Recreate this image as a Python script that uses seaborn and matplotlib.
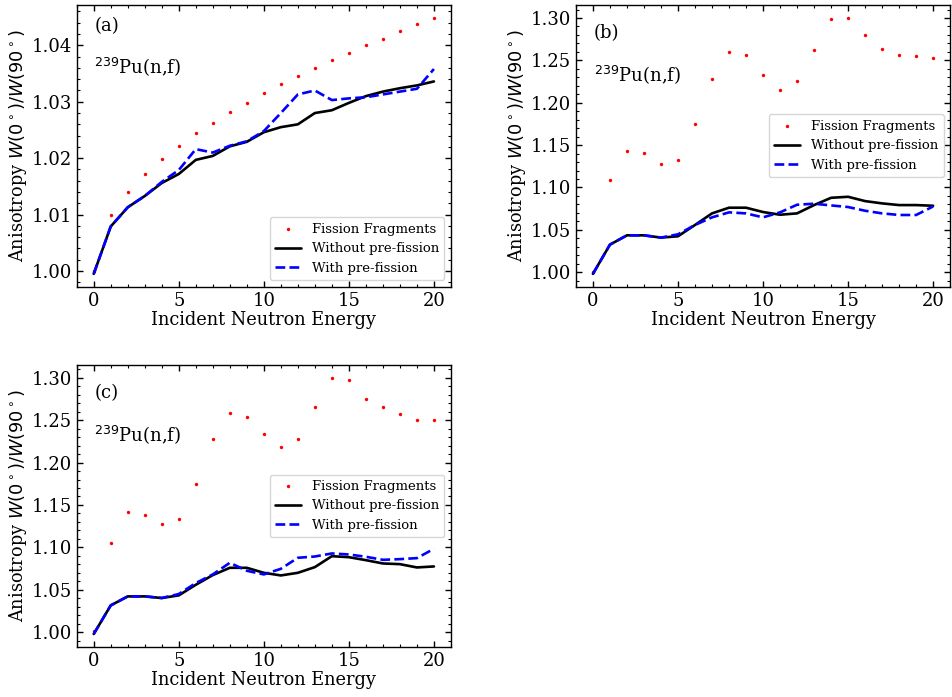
#!/usr/bin/env python3

import numpy as np
import pandas as pd
import seaborn as sns
import matplotlib
matplotlib.use("Agg")
import matplotlib.pyplot as plt
from matplotlib.ticker import MultipleLocator

# Anisotropy W(0)/W(90) vs incident neutron energy, three panels for 239Pu(n,f)

energy = list(range(21))

# panel (a)
ff_a = [1.0000, 1.0099, 1.0140, 1.0172, 1.0198, 1.0222, 1.0244, 1.0262, 1.0281, 1.0298, 1.0315,
        1.0331, 1.0345, 1.0360, 1.0374, 1.0387, 1.0400, 1.0412, 1.0425, 1.0437, 1.0449]
without_a = [0.9995, 1.0079, 1.0113, 1.0133, 1.0156, 1.0172, 1.0197, 1.0204, 1.0221, 1.0229, 1.0246,
             1.0255, 1.0260, 1.0280, 1.0285, 1.0298, 1.0310, 1.0318, 1.0324, 1.0329, 1.0336]
with_a = [0.9995, 1.0079, 1.0113, 1.0133, 1.0158, 1.0179, 1.0216, 1.0210, 1.0222, 1.0230, 1.0248,
          1.0280, 1.0313, 1.0320, 1.0303, 1.0306, 1.0308, 1.0313, 1.0318, 1.0323, 1.0358]

# panel (b)
ff_b = [1.0000, 1.1086, 1.1427, 1.1408, 1.1278, 1.1325, 1.1753, 1.2282, 1.2604, 1.2565, 1.2322,
        1.2153, 1.2259, 1.2624, 1.2984, 1.3004, 1.2796, 1.2639, 1.2569, 1.2553, 1.2525]
without_b = [0.998, 1.0325, 1.0435, 1.0435, 1.0408, 1.0424, 1.0557, 1.0694, 1.0761, 1.0761, 1.0710,
             1.0678, 1.0694, 1.0792, 1.0878, 1.0890, 1.0839, 1.0812, 1.0792, 1.0792, 1.0784]
with_b = [0.998, 1.0325, 1.0435, 1.0435, 1.0408, 1.0447, 1.0557, 1.0647, 1.0706, 1.0694, 1.0647,
          1.0706, 1.0796, 1.0808, 1.0788, 1.0769, 1.0725, 1.0694, 1.0675, 1.0675, 1.0776]

# panel (c)
ff_c = [1.0010, 1.1058, 1.1423, 1.1384, 1.1278, 1.1333, 1.1748, 1.2277, 1.2578, 1.2531, 1.2335,
        1.2179, 1.2277, 1.2657, 1.2998, 1.2978, 1.2751, 1.2649, 1.2571, 1.2500, 1.2500]
without_c = [0.998, 1.0317, 1.0423, 1.0423, 1.0404, 1.0435, 1.0560, 1.0674, 1.0760, 1.0760, 1.0701,
             1.0670, 1.0701, 1.0768, 1.0897, 1.0885, 1.0850, 1.0811, 1.0803, 1.0764, 1.0776]
with_c = [0.998, 1.0317, 1.0423, 1.0423, 1.0404, 1.0451, 1.0580, 1.0682, 1.0819, 1.0725, 1.0682,
          1.0748, 1.0878, 1.0893, 1.0929, 1.0917, 1.0890, 1.0854, 1.0862, 1.0874, 1.0984]

panel_labels = ["(a)", "(b)", "(c)"]
reaction = r"$^{239}$Pu(n,f)"

sns.set_style("ticks")
plt.rcParams["font.family"] = ["DejaVu Serif"]
plt.rcParams["mathtext.fontset"] = "dejavusans"
for key in ["text.color", "axes.labelcolor", "xtick.color", "ytick.color", "axes.edgecolor"]:
    plt.rcParams[key] = "black"


def draw_panel(ax, ff, without, with_pre, label, ymajor, ymin, text_y, legend_loc):
    df = pd.DataFrame({"energy": energy, "ff": ff, "without": without, "with": with_pre})

    sns.scatterplot(data=df, x="energy", y="ff", ax=ax, color="red", s=6,
                    linewidth=0, label="Fission Fragments", zorder=1)
    sns.lineplot(data=df, x="energy", y="without", ax=ax, color="black", lw=1.9,
                 label="Without pre-fission", zorder=2)
    sns.lineplot(data=df, x="energy", y="with", ax=ax, color="blue", lw=1.9,
                 linestyle="--", label="With pre-fission", zorder=3)

    ax.set_xlabel("Incident Neutron Energy", fontsize=12.8, labelpad=1)
    ax.set_ylabel(r"Anisotropy $W(0^\circ)/W(90^\circ)$", fontsize=12.8, labelpad=2)

    ax.xaxis.set_major_locator(MultipleLocator(5))
    ax.xaxis.set_minor_locator(MultipleLocator(1))
    ax.yaxis.set_major_locator(MultipleLocator(ymajor))
    ax.yaxis.set_minor_locator(MultipleLocator(ymin))
    ax.tick_params(which="both", direction="in", top=True, right=True, labelsize=13)
    ax.tick_params(which="major", length=4, width=1)
    ax.tick_params(which="minor", length=2, width=0.8)
    for sp in ax.spines.values():
        sp.set_linewidth(1.0)

    ax.text(0.047, text_y[0], label, transform=ax.transAxes, fontsize=13, va="center")
    ax.text(0.047, text_y[1], reaction, transform=ax.transAxes, fontsize=13, va="center")

    ax.legend(loc=legend_loc, fontsize=9.5)


fig, axes = plt.subplots(2, 2, figsize=(9.53, 6.97), dpi=100)
plt.subplots_adjust(left=0.0805, right=0.997, top=0.993, bottom=0.072,
                    wspace=0.334, hspace=0.278)

draw_panel(axes[0, 0], ff_a, without_a, with_a, panel_labels[0], 0.01, 0.002,
           (0.925, 0.78), "lower right")
draw_panel(axes[0, 1], ff_b, without_b, with_b, panel_labels[1], 0.05, 0.01,
           (0.90, 0.753), "center right")
draw_panel(axes[1, 0], ff_c, without_c, with_c, panel_labels[2], 0.05, 0.01,
           (0.90, 0.754), "center right")
axes[1, 1].axis("off")

fig.savefig("out.png", dpi=100)
